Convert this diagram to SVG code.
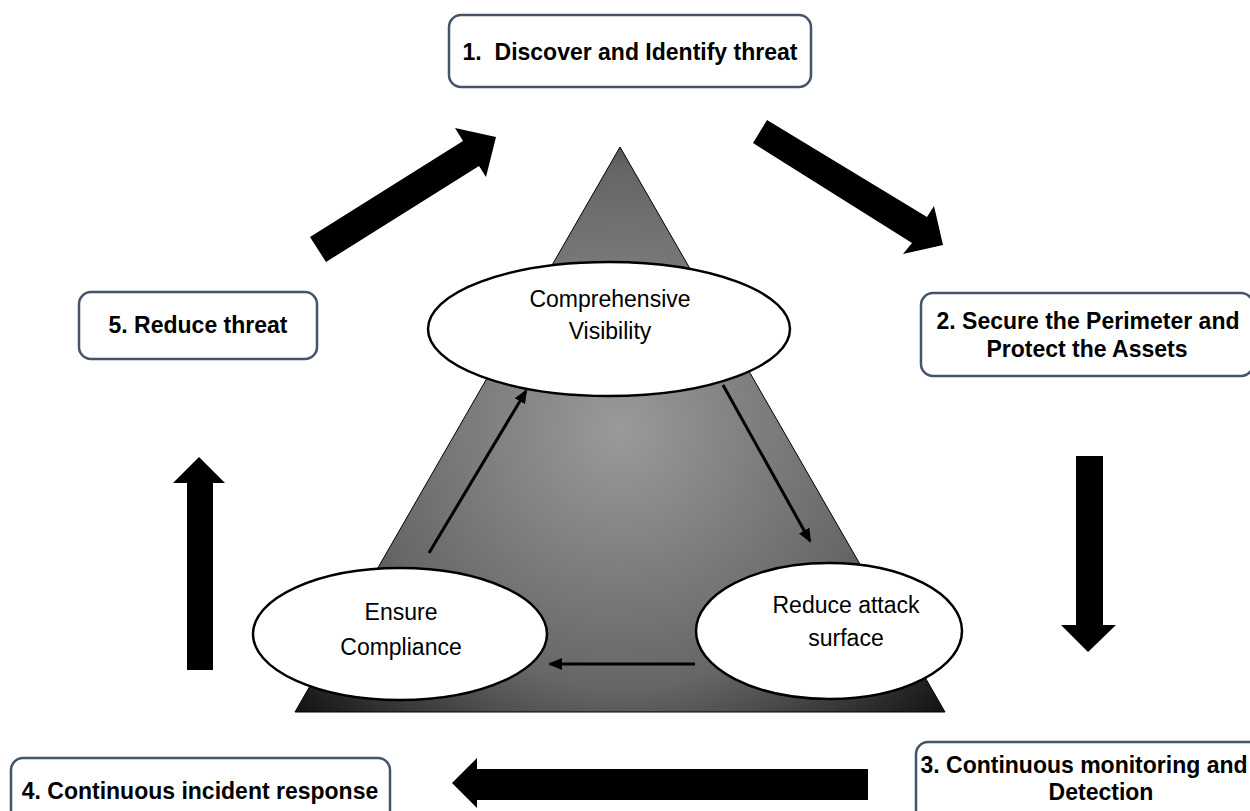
<svg xmlns="http://www.w3.org/2000/svg" width="1250" height="811" viewBox="0 0 1250 811">
<defs>
<radialGradient id="triGrad" gradientUnits="userSpaceOnUse" cx="620" cy="430" r="430">
<stop offset="0" stop-color="#9a9a9a"/>
<stop offset="0.6" stop-color="#666666"/>
<stop offset="1" stop-color="#111111"/>
</radialGradient>
<marker id="ah" markerWidth="14" markerHeight="12" refX="12" refY="6" orient="auto" markerUnits="userSpaceOnUse" viewBox="0 0 14 12">
<path d="M0,0 L14,6 L0,12 z" fill="#000"/>
</marker>
</defs>
<style>
.box{fill:#fff;stroke:#44546a;stroke-width:2.5}
.bt{font-family:"Liberation Sans",Arial,sans-serif;font-weight:bold;font-size:23px;fill:#000;text-anchor:middle}
.ell{fill:#fff;stroke:#000;stroke-width:2.5}
.et{font-family:"Liberation Sans",Arial,sans-serif;font-size:23px;fill:#000;text-anchor:middle}
.big{fill:#000}
.thin{stroke:#000;stroke-width:3;fill:none;marker-end:url(#ah)}
</style>
<rect width="1250" height="811" fill="#fff"/>
<g id="triangle">
<polygon points="620,147 295,712 945,712" fill="url(#triGrad)" stroke="#000" stroke-width="1"/>
</g>
<g id="connectors">
<polygon class="big" points="310,237 463,141 455,128 496,137 486,177 479,166 326,262"/>
<polygon class="big" points="767,120 927,217 934,206 943,245 903,254 912,243 753,143"/>
<polygon class="big" points="1076,456 1103,456 1103,625 1116,625 1088,652 1061,625 1076,625"/>
<polygon class="big" points="868,769 868,800 477,800 477,808 452,783 477,758 477,769"/>
<polygon class="big" points="187,670 213,670 213,483 225,483 199,457 173,483 187,483"/>
<line class="thin" x1="429" y1="553" x2="526" y2="391"/>
<line class="thin" x1="723" y1="385" x2="810" y2="541"/>
<line class="thin" x1="695" y1="664" x2="550" y2="664"/>
</g>
<g id="node-visibility">
<ellipse class="ell" cx="609" cy="329" rx="181" ry="67"/>
<text class="et" x="610" y="307">Comprehensive</text>
<text class="et" x="610" y="339">Visibility</text>
</g>
<g id="node-compliance">
<ellipse class="ell" cx="400" cy="634" rx="147" ry="66"/>
<text class="et" x="401" y="620">Ensure</text>
<text class="et" x="401" y="655">Compliance</text>
</g>
<g id="node-attack">
<ellipse class="ell" cx="829" cy="631" rx="133" ry="68"/>
<text class="et" x="846" y="613">Reduce attack</text>
<text class="et" x="846" y="646">surface</text>
</g>
<g id="node-1">
<rect class="box" x="449" y="15" width="362" height="72" rx="12"/>
<text class="bt" x="630" y="60" xml:space="preserve">1.  Discover and Identify threat</text>
</g>
<g id="node-2">
<rect class="box" x="921" y="293" width="332" height="83" rx="12"/>
<text class="bt" x="1088" y="329">2. Secure the Perimeter and</text>
<text class="bt" x="1087" y="357">Protect the Assets</text>
</g>
<g id="node-3">
<rect class="box" x="916" y="742" width="370" height="90" rx="12"/>
<text class="bt" x="1084" y="773">3. Continuous monitoring and</text>
<text class="bt" x="1101" y="800">Detection</text>
</g>
<g id="node-4">
<rect class="box" x="11" y="758" width="379" height="70" rx="12"/>
<text class="bt" x="200" y="799">4. Continuous incident response</text>
</g>
<g id="node-5">
<rect class="box" x="79" y="292" width="238" height="67" rx="12"/>
<text class="bt" x="198" y="333">5. Reduce threat</text>
</g>
</svg>
